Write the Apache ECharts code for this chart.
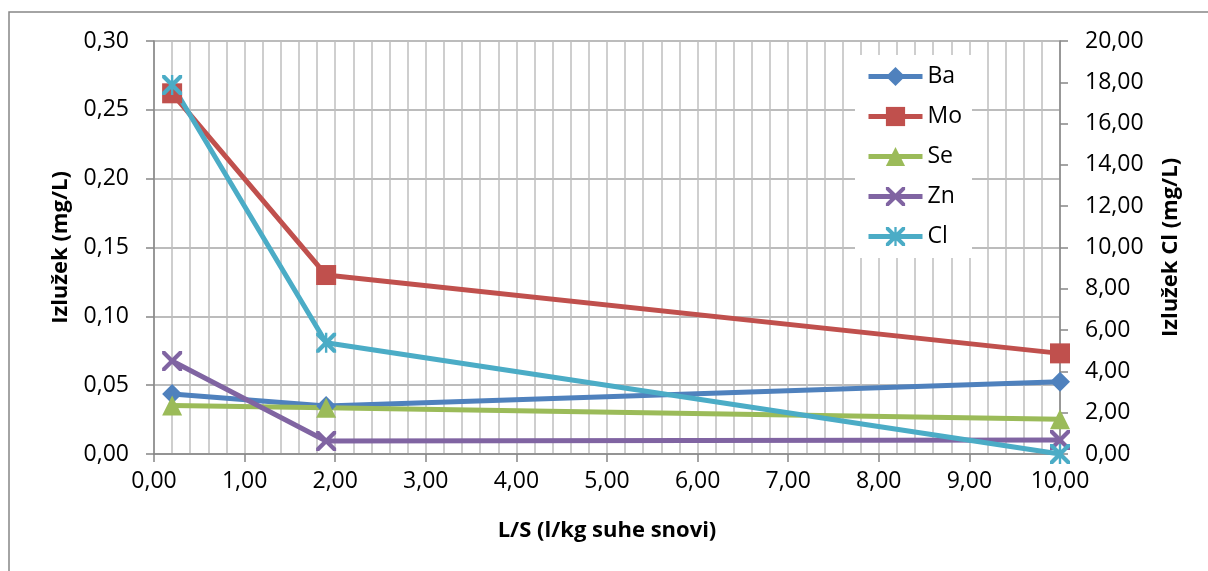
<!DOCTYPE html>
<html>
<head>
<meta charset="utf-8">
<script src="https://cdn.jsdelivr.net/npm/echarts@6/dist/echarts.min.js"></script>
<style>
  html, body { margin: 0; padding: 0; background: #fff; }
  #chart { width: 1208px; height: 571px; }
</style>
</head>
<body>
<div id="chart"></div>
<script>
// L/S points and leachate values
var ls = [0.2, 1.9, 10];
var ba = [0.0436, 0.0349, 0.0525];
var mo = [0.262, 0.130, 0.0731];
var se = [0.0352, 0.0336, 0.0252];
var zn = [0.0676, 0.0095, 0.0101];
var cl = [17.87, 5.39, 0.0];

var seriesNames = ['Ba', 'Mo', 'Se', 'Zn', 'Cl'];
var colors = ['#4F81BD', '#C0504D', '#9BBB59', '#8064A2', '#4BACC6'];

var xSymbol = 'path://M0,0L3,0L10,7L17,0L20,0L20,3L13,10L20,17L20,20L17,20L10,13L3,20L0,20L0,17L7,10L0,3Z';
var starSymbol = xSymbol + 'M8.8,0L11.2,0L11.2,20L8.8,20Z';
var symbols = ['diamond', 'rect', 'triangle', xSymbol, starSymbol];

function pairs(ys) {
  return ls.map(function (x, i) { return [x, ys[i]]; });
}
function comma(v) { return v.toFixed(2).replace('.', ','); }

var font = 'Open Sans';
var chart = echarts.init(document.getElementById('chart'));

var values = [ba, mo, se, zn, cl];
var series = values.map(function (ys, i) {
  return {
    name: seriesNames[i],
    type: 'line',
    yAxisIndex: i === 4 ? 1 : 0,
    data: pairs(ys),
    symbol: symbols[i],
    symbolSize: 20,
    showAllSymbol: true,
    clip: false,
    lineStyle: { color: colors[i], width: 5 },
    itemStyle: { color: colors[i] },
    emphasis: { disabled: true }
  };
});

chart.setOption({
  animation: false,
  textStyle: { fontFamily: font },
  graphic: [{
    type: 'rect',
    shape: { x: 9, y: 12, width: 1400, height: 800 },
    style: { fill: 'none', stroke: '#868686', lineWidth: 1.5 },
    silent: true
  }],
  grid: { left: 154, right: 148, top: 41, bottom: 117 },
  legend: {
    orient: 'vertical',
    left: 855,
    top: 55,
    padding: [10, 10, 10, 11],
    backgroundColor: '#fff',
    itemWidth: 54,
    itemHeight: 24,
    itemGap: 17,
    lineStyle: { width: 5 },
    textStyle: { fontSize: 23, color: '#000', fontFamily: font },
    data: seriesNames
  },
  xAxis: {
    type: 'value',
    min: 0, max: 10, interval: 1,
    name: 'L/S (l/kg suhe snovi)',
    nameLocation: 'middle',
    nameGap: 66,
    nameTextStyle: { fontSize: 22, fontWeight: 'bold', color: '#000' },
    axisLine: { lineStyle: { color: '#868686', width: 1.5 } },
    axisTick: { show: true, length: 8, lineStyle: { color: '#868686', width: 1.5 } },
    axisLabel: { fontSize: 23, color: '#000', margin: 16, formatter: comma },
    splitLine: { show: true, lineStyle: { color: '#bfbfbf', width: 1.5 } },
    minorTick: { show: false, splitNumber: 5 },
    minorSplitLine: { show: true, lineStyle: { color: '#bfbfbf', width: 1.5 } }
  },
  yAxis: [{
    type: 'value',
    min: 0, max: 0.3, interval: 0.05,
    name: 'Izlužek (mg/L)',
    nameLocation: 'middle',
    nameRotate: 90,
    nameGap: 82,
    nameTextStyle: { fontSize: 22, fontWeight: 'bold', color: '#000' },
    axisLine: { show: true, lineStyle: { color: '#868686', width: 1.5 } },
    axisTick: { show: true, length: 8, lineStyle: { color: '#868686', width: 1.5 } },
    axisLabel: { fontSize: 23, color: '#000', margin: 25, formatter: comma },
    splitLine: { show: true, lineStyle: { color: '#a6a6a6', width: 1.5 } }
  }, {
    type: 'value',
    min: 0, max: 20, interval: 2,
    position: 'right',
    name: 'Izlužek Cl (mg/L)',
    nameLocation: 'middle',
    nameRotate: 90,
    nameGap: 100,
    nameTextStyle: { fontSize: 22, fontWeight: 'bold', color: '#000' },
    axisLine: { show: true, lineStyle: { color: '#868686', width: 1.5 } },
    axisTick: { show: true, length: 8, lineStyle: { color: '#868686', width: 1.5 } },
    axisLabel: { fontSize: 23, color: '#000', margin: 25, formatter: comma },
    splitLine: { show: false }
  }],
  series: series
});
</script>
</body>
</html>
